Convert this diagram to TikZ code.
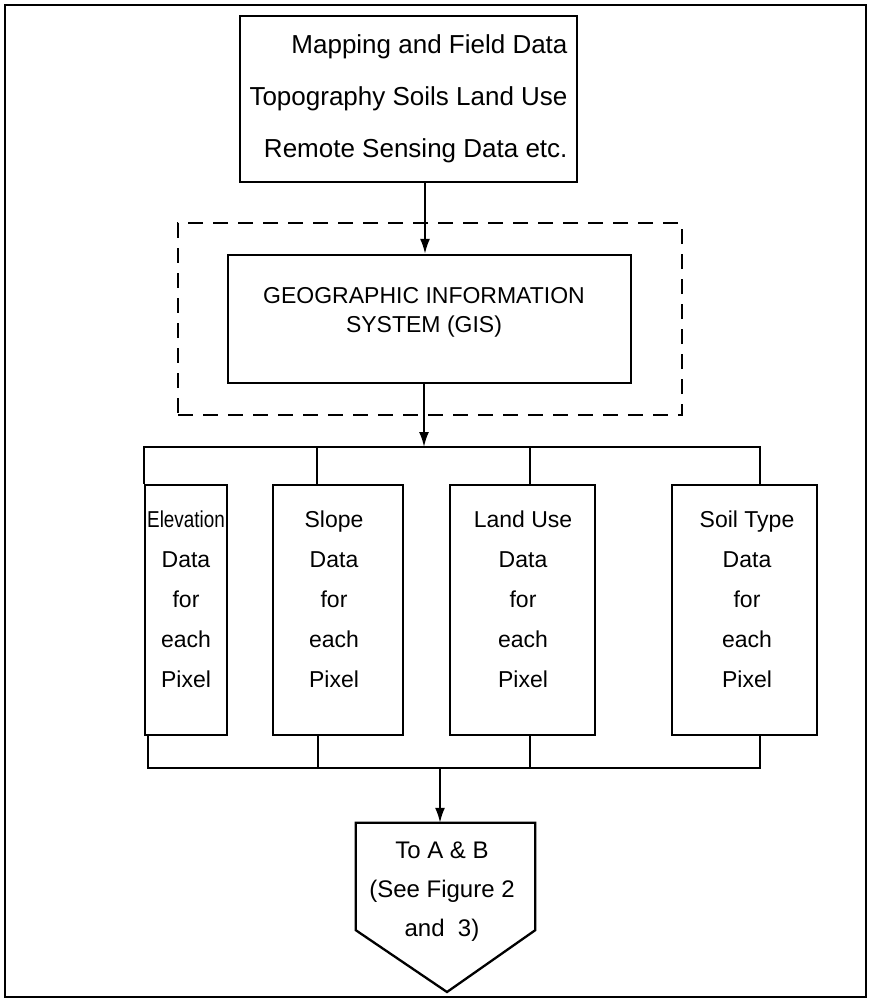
\documentclass[tikz,border=0pt]{standalone}
\usepackage{fontspec}
\setmainfont{Liberation Sans}
\usetikzlibrary{arrows.meta,calc}
\begin{document}
\begin{tikzpicture}[x=1pt,y=-1pt,
  box/.style={draw, line width=2.3pt, inner sep=0pt, rectangle},
  dbox/.style={draw, line width=2pt, dash pattern=on 15pt off 10pt, inner sep=0pt, rectangle},
  conn/.style={line width=2pt},
  arr/.style={conn, -{Latex[length=15pt,width=10pt]}},
  lbl/.style={inner sep=0pt, align=center, font=\fontsize{23}{40}\selectfont},
]
\useasboundingbox (0,0) rectangle (870,1000);
\draw[line width=2.6pt] (5,5) rectangle (866,997);

% top box
\node[box, minimum width=337pt, minimum height=166pt, align=right,
      font=\fontsize{26}{52}\selectfont] (top) at (408.5,99)
  {Mapping and Field Data\\Topography Soils Land Use\\Remote Sensing Data etc.};

% dashed frame and GIS box
\node[dbox, minimum width=504pt, minimum height=192pt] (frame) at (430,319) {};
\node[box, minimum width=403pt, minimum height=128pt] (gis) at (429.5,319) {};
\node[lbl, font=\fontsize{23}{29}\selectfont] (gist) at (424,312)
  {GEOGRAPHIC INFORMATION\\SYSTEM (GIS)};

% data boxes
\node[box, minimum width=82pt, minimum height=250pt] (elev) at (186,610) {};
\node[box, minimum width=130pt, minimum height=250pt] (slope) at (338,610) {};
\node[box, minimum width=145pt, minimum height=250pt] (land) at (522.5,610) {};
\node[box, minimum width=145pt, minimum height=250pt] (soil) at (744.5,610) {};
\node[lbl] (elevt) at (186,599) {\scalebox{0.82}[1]{Elevation}\\Data\\for\\each\\Pixel};
\node[lbl] (slopet) at (334,599) {Slope\\Data\\for\\each\\Pixel};
\node[lbl] (landt) at (523,599) {Land Use\\Data\\for\\each\\Pixel};
\node[lbl] (soilt) at (747,599) {Soil Type\\Data\\for\\each\\Pixel};

% pentagon
\node[inner sep=0pt, minimum width=179pt, minimum height=107pt] (pent) at (445.5,876.5) {};
\coordinate (tip) at (447,992);
\draw[box] (pent.south west) -- (pent.north west) -- (pent.north east)
  -- (pent.south east) -- (tip) -- cycle;
\node[lbl, font=\fontsize{24}{39}\selectfont] (pentt) at (442,892)
  {To A \& B\\(See Figure 2\\and\ \ 3)};

% connectors
\coordinate (a1) at (425,0);
\draw[arr] (top.south -| a1) -- (gis.north -| a1);
\coordinate (b1) at (424,447);
\draw[arr] (gis.south -| b1) -- (b1);

\coordinate (t1) at (145,447);
\coordinate (t2) at (317,447);
\coordinate (t3) at (530,447);
\coordinate (t4) at (760,447);
\draw[conn] (elev.north west) -- (elev.north west |- t1) -- (t4) -- (soil.north -| t4);
\draw[conn] (t2) -- (slope.north -| t2);
\draw[conn] (t3) -- (land.north -| t3);

\coordinate (u1) at (148,768);
\coordinate (u2) at (318,768);
\coordinate (u3) at (530,768);
\coordinate (u4) at (760,768);
\draw[conn] (elev.south -| u1) -- (u1) -- (u4) -- (soil.south -| u4);
\draw[conn] (slope.south -| u2) -- (u2);
\draw[conn] (land.south -| u3) -- (u3);

\coordinate (c1) at (440,768);
\draw[arr] (c1) -- (pent.north -| c1);
\end{tikzpicture}
\end{document}
